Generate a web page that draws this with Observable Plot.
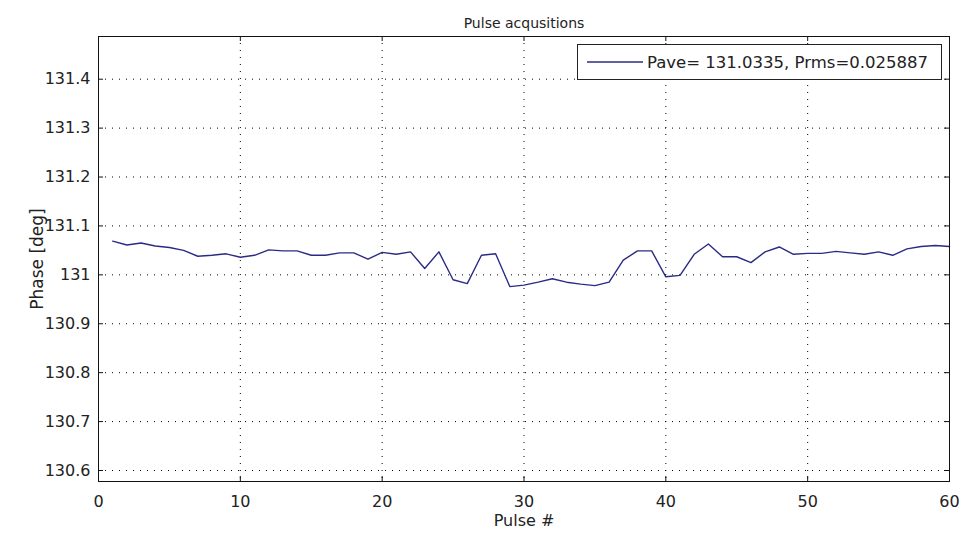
<!DOCTYPE html>
<html>
<head>
<meta charset="utf-8">
<script src="https://cdn.jsdelivr.net/npm/d3@7"></script>
<script src="https://cdn.jsdelivr.net/npm/@observablehq/plot@0.6"></script>
<style>
  html, body { margin: 0; padding: 0; background: #fff; }
  #wrap { position: relative; width: 970px; height: 537px; }
  .legend {
    position: absolute; left: 577px; top: 44px; width: 365px; height: 36px;
    box-sizing: border-box; border: 1px solid #222; background: #fff;
  }
  .legend svg { position: absolute; left: 0; top: 0; }
</style>
</head>
<body>
<div id="wrap"></div>
<script>
// Phase of each pulse acquisition, pulses 1..60
const phase = [
  131.069, 131.061, 131.065, 131.059, 131.056, 131.050, 131.038, 131.040, 131.043, 131.036,
  131.040, 131.051, 131.049, 131.049, 131.040, 131.040, 131.045, 131.045, 131.032, 131.046,
  131.042, 131.047, 131.013, 131.047, 130.990, 130.982, 131.040, 131.043, 130.976, 130.979,
  130.985, 130.992, 130.985, 130.981, 130.978, 130.985, 131.030, 131.049, 131.049, 130.996,
  130.999, 131.042, 131.063, 131.037, 131.037, 131.025, 131.047, 131.057, 131.042, 131.044,
  131.044, 131.048, 131.045, 131.042, 131.047, 131.040, 131.053, 131.058, 131.060, 131.058
];
const pulseNo = phase.map((_, i) => i + 1);

const xTicks = [0, 10, 20, 30, 40, 50, 60];
const yTicks = [130.6, 130.7, 130.8, 130.9, 131.0, 131.1, 131.2, 131.3, 131.4];

const titleText = "Pulse acqusitions";
const xLabel = "Pulse #";
const yLabel = "Phase [deg]";
const legendText = "Pave= 131.0335, Prms=0.025887";

const lineColor = "#2b2b86";
const dotted = "1,6";
const font = "DejaVu Sans, sans-serif";

const frameW = 970 - 98 - 21;
const frameH = 537 - 36 - 56;

const chart = Plot.plot({
  width: 970,
  height: 537,
  marginLeft: 98,
  marginRight: 21,
  marginTop: 36,
  marginBottom: 56,
  style: { fontFamily: font, fontSize: "16px", color: "#222", background: "#fff" },
  x: { domain: [0, 60], label: null },
  y: { domain: [130.5775, 131.4873], label: null },
  marks: [
    Plot.gridX(xTicks, { stroke: "#000", strokeOpacity: 1, strokeDasharray: dotted }),
    Plot.gridY(yTicks, { stroke: "#000", strokeOpacity: 1, strokeDasharray: dotted }),
    // inward tick marks on all four sides
    Plot.ruleX(xTicks, { stroke: "#111", insetTop: frameH - 5 }),
    Plot.ruleX(xTicks, { stroke: "#111", insetBottom: frameH - 5 }),
    Plot.ruleY(yTicks, { stroke: "#111", insetRight: frameW - 5 }),
    Plot.ruleY(yTicks, { stroke: "#111", insetLeft: frameW - 5 }),
    Plot.axisX(xTicks, { tickSize: 0, tickPadding: 14, label: null }),
    Plot.axisY(yTicks, { tickSize: 0, tickPadding: 8, label: null, tickFormat: d => String(+d.toFixed(1)) }),
    Plot.line(phase, { x: (d, i) => pulseNo[i], y: d => d, stroke: lineColor, strokeWidth: 1.4 }),
    Plot.frame({ stroke: "#111" }),
    Plot.text([titleText], { frameAnchor: "top", dy: -18, fontSize: 14, fill: "#222" }),
    Plot.text([xLabel], { frameAnchor: "bottom", dy: 44, fontSize: 16, fill: "#222" }),
    Plot.text([yLabel], { frameAnchor: "left", textAnchor: "middle", dx: -61, rotate: -90, fontSize: 17, fill: "#222" })
  ]
});

const wrap = document.getElementById("wrap");
wrap.appendChild(chart);

// legend box in the top-right corner of the axes
const legend = d3.select(wrap).append("div").attr("class", "legend");
const lsvg = legend.append("svg").attr("width", 363).attr("height", 34);
lsvg.append("line")
  .attr("x1", 9).attr("x2", 65).attr("y1", 17).attr("y2", 17)
  .attr("stroke", lineColor).attr("stroke-width", 1.4);
lsvg.append("text")
  .attr("x", 69).attr("y", 17).attr("dy", "0.36em")
  .attr("font-family", font).attr("font-size", 16).attr("fill", "#222")
  .attr("textLength", 281).attr("lengthAdjust", "spacingAndGlyphs")
  .text(legendText);
</script>
</body>
</html>
